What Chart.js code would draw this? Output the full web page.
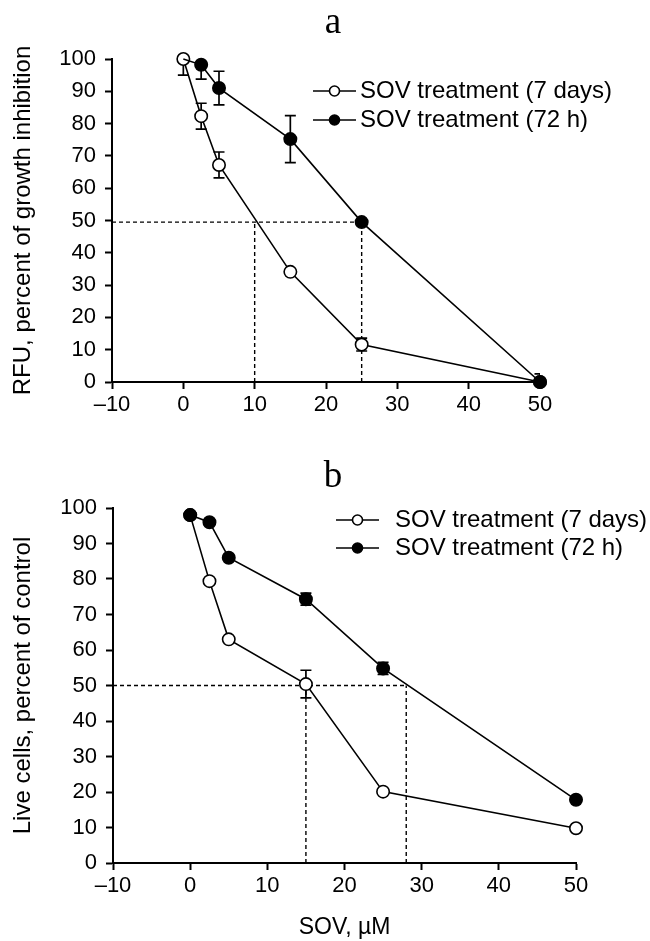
<!DOCTYPE html>
<html>
<head>
<meta charset="utf-8">
<script src="https://cdn.jsdelivr.net/npm/chart.js@4.4.1/dist/chart.umd.min.js"></script>
<style>
  html, body { margin: 0; padding: 0; background: #fff; }
  #wrap { position: relative; width: 650px; height: 941px; }
  canvas { position: absolute; left: 0; }
  #chartA { top: 0; }
  #chartB { top: 460px; }
</style>
</head>
<body>
<div id="wrap">
  <canvas id="chartA" width="650" height="460"></canvas>
  <canvas id="chartB" width="650" height="481"></canvas>
</div>
<script>
// SOV concentrations, uM
const doses = [0, 2.5, 5, 15, 25, 50];

// panel a - RFU, percent of growth inhibition
const aWeek = [100, 82.3, 67.2, 34.1, 11.6, 0];
const aWeekErr = [5, 4, 4, 0, 2, 2.5];
const a72h = [100, 98.2, 91, 75.2, 49.5, 0];
const a72hErr = [0, 4.4, 5.2, 7.3, 0, 0];
const aLevel = 49.5;
const aCuts = [10, 25];

// panel b - live cells, percent of control
const bWeek = [98, 79.4, 63, 50.4, 20.1, 9.8];
const bWeekErr = [0, 0, 0, 3.9, 0, 0];
const b72h = [98, 96, 86, 74.3, 54.8, 17.8];
const b72hErr = [0, 0, 0, 1.7, 1.7, 0];
const bLevel = 50;
const bCuts = [15, 28];

const xTicks = [-10, 0, 10, 20, 30, 40, 50];
const yTicks = [0, 10, 20, 30, 40, 50, 60, 70, 80, 90, 100];
const seriesNames = ['SOV treatment (7 days)', 'SOV treatment (72 h)'];

const SANS = "'Liberation Sans', Arial, sans-serif";
const SERIF = "'Liberation Serif', 'Times New Roman', serif";

function pts(ys) {
    return doses.map((x, i) => ({ x: x, y: ys[i] }));
}

// error bars go under the markers
const errorBars = {
    id: 'errorBars',
    beforeDatasetsDraw(chart) {
        const { ctx, chartArea, scales } = chart;
        ctx.save();
        ctx.beginPath();
        ctx.rect(chartArea.left, chartArea.top, chartArea.right - chartArea.left, chartArea.bottom - chartArea.top);
        ctx.clip();
        ctx.strokeStyle = '#000';
        ctx.lineWidth = 1.7;
        chart.data.datasets.forEach(ds => {
            if (!ds.errors) return;
            ds.data.forEach((p, i) => {
                const e = ds.errors[i];
                if (!e) return;
                const x = scales.x.getPixelForValue(p.x);
                const y1 = scales.y.getPixelForValue(p.y - e);
                const y2 = scales.y.getPixelForValue(p.y + e);
                ctx.beginPath();
                ctx.moveTo(x, y1); ctx.lineTo(x, y2);
                ctx.moveTo(x - 5.5, y1); ctx.lineTo(x + 5.5, y1);
                ctx.moveTo(x - 5.5, y2); ctx.lineTo(x + 5.5, y2);
                ctx.stroke();
            });
        });
        ctx.restore();
    }
};

// panel letter and the line-circle-line legend
const panelDeco = {
    id: 'panel',
    afterDraw(chart, args, opts) {
        const ctx = chart.ctx;
        ctx.save();
        ctx.fillStyle = '#000';
        ctx.font = '37px ' + SERIF;
        ctx.textAlign = 'center';
        ctx.textBaseline = 'alphabetic';
        ctx.fillText(opts.letter, opts.letterX, opts.letterY);

        ctx.font = '24px ' + SANS;
        ctx.textAlign = 'left';
        seriesNames.forEach((name, i) => {
            const base = opts.legendY + i * opts.rowGap;
            const ly = base - 7;
            ctx.strokeStyle = '#000';
            ctx.lineWidth = 1.6;
            ctx.beginPath();
            ctx.moveTo(opts.legendX, ly);
            ctx.lineTo(opts.legendX + 43, ly);
            ctx.stroke();
            ctx.beginPath();
            ctx.arc(opts.legendX + 21.5, ly, 5, 0, Math.PI * 2);
            ctx.fillStyle = i === 0 ? '#fff' : '#000';
            ctx.fill();
            ctx.stroke();
            ctx.fillStyle = '#000';
            ctx.fillText(name, opts.legendX + opts.textGap, base);
        });
        ctx.restore();
    }
};

function makeChart(id, cfg) {
    const dashed = [
        [{ x: -10, y: cfg.level }, { x: cfg.cuts[1], y: cfg.level }],
        [{ x: cfg.cuts[0], y: 0 }, { x: cfg.cuts[0], y: cfg.level }],
        [{ x: cfg.cuts[1], y: 0 }, { x: cfg.cuts[1], y: cfg.level }]
    ].map(d => ({
        data: d,
        showLine: true,
        borderColor: '#000',
        borderWidth: 1.4,
        borderDash: [4, 3],
        pointRadius: 0,
        clip: false
    }));

    return new Chart(document.getElementById(id), {
        type: 'scatter',
        data: {
            datasets: [
                {
                    label: seriesNames[1],
                    data: pts(cfg.h72),
                    errors: cfg.h72Err,
                    showLine: true,
                    borderColor: '#000',
                    borderWidth: 1.6,
                    pointRadius: c => (cfg.hideFirst72 && c.dataIndex === 0) ? 0 : 6.2,
                    pointBackgroundColor: '#000',
                    pointBorderColor: '#000',
                    pointBorderWidth: 1.6,
                    clip: false
                },
                {
                    label: seriesNames[0],
                    data: pts(cfg.week),
                    errors: cfg.weekErr,
                    showLine: true,
                    borderColor: '#000',
                    borderWidth: 1.6,
                    pointRadius: 6.2,
                    pointBackgroundColor: '#fff',
                    pointBorderColor: '#000',
                    pointBorderWidth: 1.6,
                    clip: false
                },
                ...dashed
            ]
        },
        options: {
            responsive: false,
            animation: false,
            events: [],
            layout: { padding: cfg.padding },
            plugins: {
                legend: { display: false },
                tooltip: { enabled: false },
                panel: cfg.deco
            },
            scales: {
                x: {
                    type: 'linear',
                    min: -10,
                    max: 50,
                    afterBuildTicks: s => { s.ticks = xTicks.map(v => ({ value: v })); },
                    afterFit: s => { s.height = cfg.xHeight; },
                    border: { display: true, color: '#000', width: 2 },
                    grid: { drawOnChartArea: false, drawTicks: true, tickLength: 7, tickWidth: 2, tickColor: '#000' },
                    ticks: {
                        color: '#000',
                        padding: 3,
                        font: { family: SANS, size: 22 },
                        callback: v => String(v).replace('-', '\u2013')
                    },
                    title: {
                        display: !!cfg.xTitle,
                        text: cfg.xTitle || '',
                        color: '#000',
                        font: { family: SANS, size: 23 },
                        padding: { top: 0, bottom: 0 }
                    }
                },
                y: {
                    type: 'linear',
                    min: 0,
                    max: 100,
                    afterBuildTicks: s => { s.ticks = yTicks.map(v => ({ value: v })); },
                    afterFit: s => { s.width = cfg.yWidth; },
                    border: { display: true, color: '#000', width: 2 },
                    grid: { drawOnChartArea: false, drawTicks: true, tickLength: 7, tickWidth: 2, tickColor: '#000' },
                    ticks: {
                        color: '#000',
                        padding: 9,
                        font: { family: SANS, size: 22 }
                    },
                    title: {
                        display: true,
                        text: cfg.yTitle,
                        color: '#000',
                        font: { family: SANS, size: 24 },
                        padding: { top: 9, bottom: 0 }
                    }
                }
            }
        },
        plugins: [errorBars, panelDeco]
    });
}

makeChart('chartA', {
    week: aWeek, weekErr: aWeekErr, h72: a72h, h72Err: a72hErr,
    level: aLevel, cuts: aCuts, hideFirst72: true,
    yTitle: 'RFU, percent of growth inhibition',
    padding: { top: 59, right: 110, left: 0, bottom: 0 },
    yWidth: 112, xHeight: 78,
    deco: { letter: 'a', letterX: 333, letterY: 33, legendX: 313, legendY: 98, rowGap: 29, textGap: 47 }
});

makeChart('chartB', {
    week: bWeek, weekErr: bWeekErr, h72: b72h, h72Err: b72hErr,
    level: bLevel, cuts: bCuts, hideFirst72: false,
    yTitle: 'Live cells, percent of control',
    xTitle: 'SOV, \u00b5M',
    padding: { top: 48, right: 74, left: 0, bottom: 0 },
    yWidth: 113, xHeight: 78,
    deco: { letter: 'b', letterX: 333, letterY: 27, legendX: 336, legendY: 67, rowGap: 28, textGap: 59 }
});
</script>
</body>
</html>
